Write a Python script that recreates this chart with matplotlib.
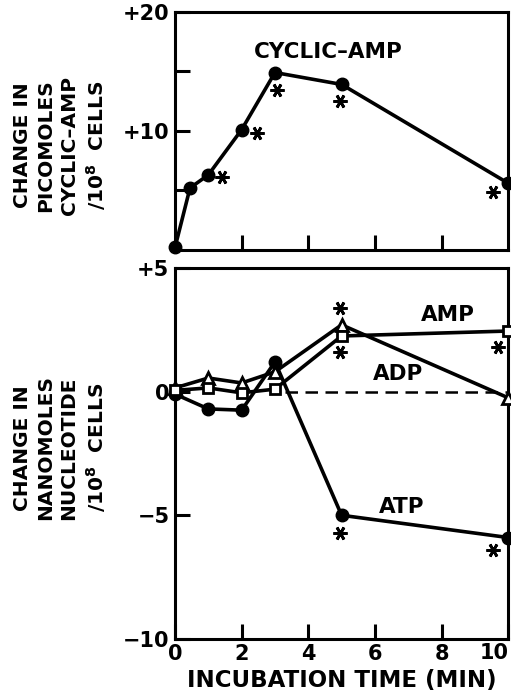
import matplotlib.pyplot as plt
import matplotlib.transforms as mtransforms

# dados lidos da figura
# painel de cima: cyclic-AMP
t_camp = [0, 0.45, 1, 2, 3, 5, 10]
camp = [0.2, 5.2, 6.3, 10.1, 14.9, 13.9, 5.6]
t_camp_ast = [1.4, 2.45, 3.05, 4.95, 9.55]
camp_ast = [6.1, 9.8, 13.4, 12.5, 4.9]

# painel de baixo: nucleotideos
t_nuc = [0, 1, 2, 3, 5, 10]
atp = [-0.1, -0.7, -0.75, 1.2, -5.0, -5.9]
adp = [0.15, 0.55, 0.35, 0.8, 2.7, -0.25]
amp = [0.05, 0.15, -0.05, 0.1, 2.25, 2.45]
t_nuc_ast = [4.95, 4.95, 9.7, 4.95, 9.55]
nuc_ast = [3.4, 1.6, 1.8, -5.7, -6.4]

x_ticks = [0, 2, 4, 6, 8, 10]

plt.rcParams['font.family'] = ['DejaVu Sans']
plt.rcParams['font.weight'] = 'bold'

fig = plt.figure(figsize=(5.11, 6.96), dpi=100)
ax1 = fig.add_axes([0.3425, 0.641, 0.652, 0.342])
ax2 = fig.add_axes([0.3425, 0.082, 0.652, 0.533])

lw = 2.6
ast = (6, 2, 90)
fs_txt = 15.5

# grafico de cima
ax1.plot(t_camp, camp, color='black', lw=lw, marker='o', ms=9, clip_on=False, zorder=3)
ax1.plot(t_camp_ast, camp_ast, ls='none', marker=ast, ms=10, mew=2, color='black', clip_on=False)
ax1.text(4.6, 16.6, 'CYCLIC\u2013AMP', fontsize=fs_txt, fontweight='bold', ha='center', va='center')
ax1.set_xlim(0, 10)
ax1.set_ylim(0, 20)
ax1.set_yticks([5, 10, 15, 20])
ax1.set_yticklabels(['', '+10', '', '+20'])
ax1.set_xticks(x_ticks[1:-1])
ax1.set_xticklabels([])
ax1.set_ylabel('CHANGE IN\nPICOMOLES\nCYCLIC\u2013AMP\n/10$^{\\mathbf{8}}$  CELLS', fontsize=14.5,
               fontweight='bold', linespacing=1.3)
ax1.yaxis.set_label_coords(-0.2, 0.44)

# grafico de baixo
ax2.plot([3.3, 10], [0, 0], color='black', lw=1.8, ls=(0, (5, 3)), zorder=1)
ax2.plot(t_nuc, atp, color='black', lw=lw, marker='o', ms=9, clip_on=False, zorder=3)
ax2.plot(t_nuc, adp, color='black', lw=lw, marker='^', ms=9, mfc='white', mew=2,
         clip_on=False, zorder=4)
ax2.plot(t_nuc, amp, color='black', lw=lw, marker='s', ms=7, mfc='white', mew=2,
         clip_on=False, zorder=5)
ax2.plot(t_nuc_ast, nuc_ast, ls='none', marker=ast, ms=10, mew=2, color='black', clip_on=False)
ax2.text(8.2, 3.1, 'AMP', fontsize=fs_txt, fontweight='bold', ha='center', va='center')
ax2.text(6.7, 0.7, 'ADP', fontsize=fs_txt, fontweight='bold', ha='center', va='center')
ax2.text(6.8, -4.65, 'ATP', fontsize=fs_txt, fontweight='bold', ha='center', va='center')
ax2.set_xlim(0, 10)
ax2.set_ylim(-10, 5)
ax2.set_yticks([-10, -5, 0, 5])
ax2.set_yticklabels(['\u221210', '\u22125', '0', '+5'])
ax2.set_xticks(x_ticks)
# o "10" fica colado na borda: escreve ele separado, um pouco pra esquerda
ax2.set_xticklabels([str(v) for v in x_ticks[:-1]] + [''])
trans = mtransforms.blended_transform_factory(ax2.transData, ax2.transAxes)
ax2.text(x_ticks[-1] - 0.42, -0.012, str(x_ticks[-1]), transform=trans, fontsize=15,
         fontweight='bold', ha='center', va='top')
ax2.set_xlabel('INCUBATION TIME (MIN)', fontsize=16.5, fontweight='bold', labelpad=3)
ax2.set_ylabel('CHANGE IN\nNANOMOLES\nNUCLEOTIDE\n/10$^{\\mathbf{8}}$  CELLS', fontsize=14.5,
               fontweight='bold', linespacing=1.3)
ax2.yaxis.set_label_coords(-0.2, 0.515)

for ax in (ax1, ax2):
    for s in ax.spines.values():
        s.set_linewidth(2.2)
    ax.tick_params(direction='in', length=11, width=2.2, labelsize=15, pad=4)
    for lab in ax.get_xticklabels() + ax.get_yticklabels():
        lab.set_fontweight('bold')

fig.savefig('out.png', dpi=100)
